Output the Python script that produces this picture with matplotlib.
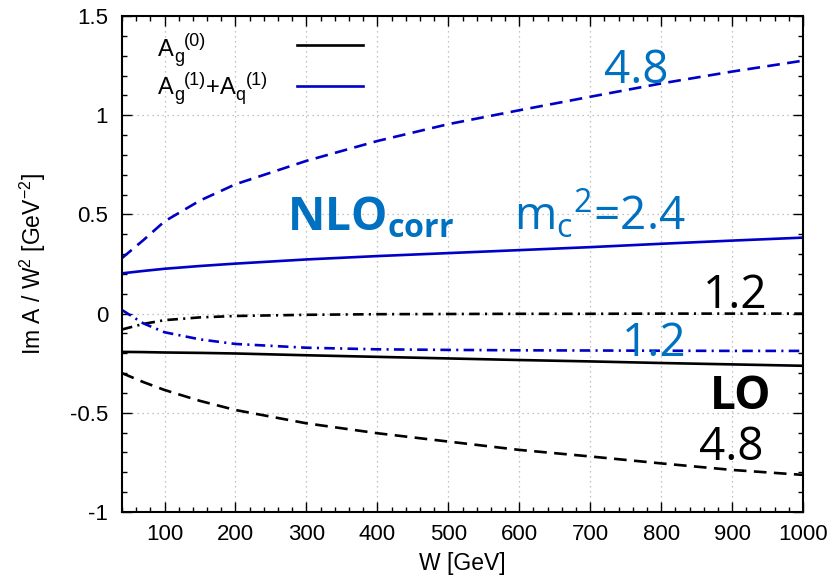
import numpy as np
import matplotlib
matplotlib.use('Agg')
import matplotlib.pyplot as plt
from matplotlib.transforms import offset_copy

plt.rcParams['font.family'] = ['Liberation Sans', 'DejaVu Sans']
plt.rcParams['axes.unicode_minus'] = False
plt.rcParams['mathtext.fontset'] = 'custom'
plt.rcParams['mathtext.rm'] = 'Open Sans'
plt.rcParams['mathtext.bf'] = 'Open Sans:bold'
plt.rcParams['mathtext.sf'] = 'Liberation Sans'

# W grid [GeV]
w = [40, 70, 100, 150, 200, 300, 400, 500, 600, 700, 800, 900, 1000]

# LO: A_g^(0) for m_c^2 = 1.2, 2.4, 4.8
lo_12 = [-0.080, -0.052, -0.033, -0.019, -0.012, -0.006, -0.003, -0.002, -0.001, -0.001, 0.0, 0.0, 0.0]
lo_24 = [-0.193, -0.194, -0.196, -0.198, -0.201, -0.210, -0.218, -0.226, -0.234, -0.241, -0.249, -0.256, -0.263]
lo_48 = [-0.300, -0.345, -0.385, -0.440, -0.486, -0.553, -0.603, -0.645, -0.687, -0.720, -0.755, -0.788, -0.813]

# NLO correction: A_g^(1) + A_q^(1)
nlo_12 = [0.018, -0.049, -0.094, -0.130, -0.153, -0.172, -0.180, -0.183, -0.185, -0.186, -0.187, -0.188, -0.188]
nlo_24 = [0.203, 0.215, 0.226, 0.240, 0.252, 0.273, 0.290, 0.305, 0.320, 0.335, 0.352, 0.368, 0.383]
nlo_48 = [0.280, 0.370, 0.465, 0.570, 0.652, 0.770, 0.870, 0.955, 1.025, 1.093, 1.160, 1.220, 1.275]

blue = '#0000c8'
note_blue = '#0070c0'
dashed = (0, (4.8, 2.8))
dashdot = (0, (4.0, 2.0, 0.8, 2.0))

fig = plt.figure(figsize=(8.35, 5.85), dpi=100)
ax = fig.add_axes([0.1461, 0.1248, 0.8156, 0.8478])

lw = 1.9
ax.plot(w, lo_24, color='black', lw=lw)
ax.plot(w, lo_12, color='black', lw=lw, linestyle=dashdot)
ax.plot(w, lo_48, color='black', lw=lw, linestyle=dashed)
ax.plot(w, nlo_24, color=blue, lw=lw)
ax.plot(w, nlo_12, color=blue, lw=lw, linestyle=dashdot)
ax.plot(w, nlo_48, color=blue, lw=lw, linestyle=dashed)

ax.set_xlim(40, 1000)
ax.set_ylim(-1, 1.5)
ax.set_xticks(np.arange(100, 1001, 100))
ax.set_xticks(np.arange(40, 1001, 20), minor=True)
ax.set_yticks([-1, -0.5, 0, 0.5, 1, 1.5])
ax.set_yticks(np.arange(-1, 1.51, 0.1), minor=True)
ax.set_yticklabels(['-1', '-0.5', '0', '0.5', '1', '1.5'])
ax.tick_params(which='both', direction='in', top=True, right=True, labelsize=16, width=1.0)
ax.tick_params(which='major', length=7.5)
ax.tick_params(axis='x', which='major', pad=9)
ax.tick_params(axis='y', which='major', pad=10)
ax.tick_params(which='minor', length=3.5)
for s in ax.spines.values():
    s.set_linewidth(1.5)
ax.grid(True, which='major', linestyle=(0, (1, 3)), color='#b0b0b0', lw=0.9)

ax.set_xlabel('W [GeV]', fontsize=16.5, labelpad=5)
ax.set_ylabel(r'Im A / W$^\mathsf{2}$ [GeV$^{\mathsf{-2}}$]', fontsize=16.5, labelpad=16)

# key: gnuplot-style, label text first then the line sample
renderer = fig.canvas.get_renderer()


def key_label(x, y, parts):
    # parts: (text, fontsize, vertical shift in points), laid out left to right
    dx = 0.0
    for s, size, dy in parts:
        tr = offset_copy(ax.transAxes, fig=fig, x=dx, y=dy * fig.dpi / 72, units='dots')
        t = ax.text(x, y, s, fontsize=size, transform=tr)
        dx += t.get_window_extent(renderer).width


key_label(0.053, 0.919, [('A', 17, 0), ('g', 13, -4), ('(0)', 13, 7)])
key_label(0.053, 0.842, [('A', 17, 0), ('g', 13, -4), ('(1)', 13, 7), ('+', 17, 0),
                         ('A', 17, 0), ('q', 13, -4), ('(1)', 13, 7)])
ax.plot([0.257, 0.354], [0.941, 0.941], color='black', lw=lw, transform=ax.transAxes)
ax.plot([0.257, 0.354], [0.858, 0.858], color=blue, lw=lw, transform=ax.transAxes)

# curve annotations
big = 33
ax.text(720, 1.162, '4.8', color=note_blue, fontsize=big, family='Open Sans')
ax.text(273, 0.421, r'$\mathbf{NLO_{corr}}$', color=note_blue, fontsize=big)
ax.text(592, 0.421, r'$\mathrm{m_c{}^2}$=2.4', color=note_blue, fontsize=big, family='Open Sans')
ax.text(859, 0.027, '1.2', color='black', fontsize=big, family='Open Sans')
ax.text(745, -0.214, '1.2', color=note_blue, fontsize=big, family='Open Sans')
ax.text(868, -0.482, 'LO', color='black', fontsize=big, family='Open Sans', weight='bold')
ax.text(853, -0.738, '4.8', color='black', fontsize=big, family='Open Sans')

fig.savefig('out.png', dpi=100)
